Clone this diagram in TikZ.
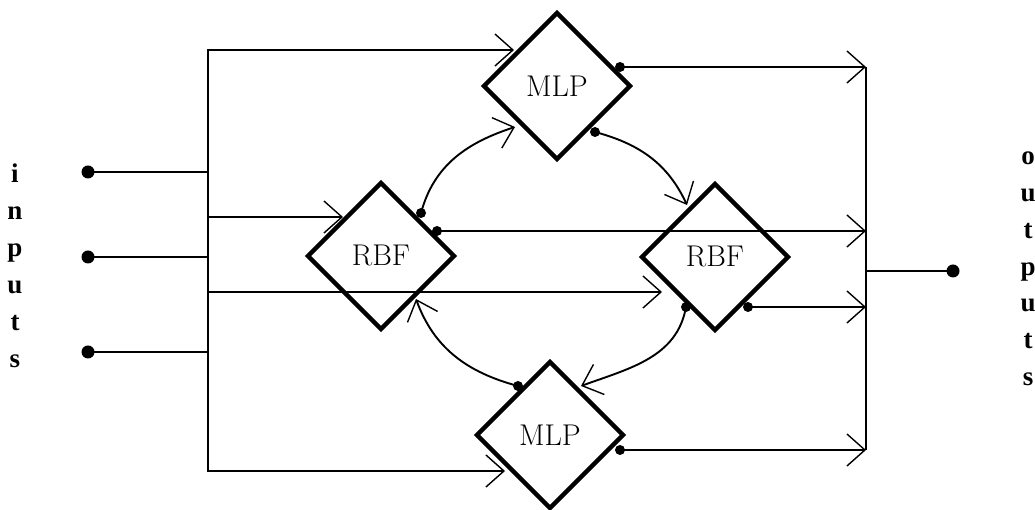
\documentclass[tikz,border=0pt]{standalone}
\usepackage{fontspec}
\newfontfamily\sideserif{Liberation Serif}
\usetikzlibrary{shapes.geometric,arrows.meta,calc}

\begin{document}
\begin{tikzpicture}[x=1pt,y=1pt,
  net/.style={draw, diamond, line width=4.4pt, minimum width=148pt, minimum height=148pt,
              inner sep=0pt, font=\fontsize{30}{32}\selectfont},
  wire/.style={line width=2.8pt},
  barb/.tip={Straight Barb[length=18pt,width=32pt,line width=1.4pt]},
  feed/.style={wire, -barb},
  feedboth/.style={wire, barb-barb, line join=miter},
  link/.style={line width=1.9pt, -barb},
  port/.style={circle, fill, inner sep=0pt, minimum size=13pt},
  tap/.style={circle, fill, inner sep=0pt, minimum size=10pt},
  sideletter/.style={anchor=base, inner sep=0pt,
                     font=\sideserif\bfseries\fontsize{27}{27}\selectfont},
]
\clip (0,0) rectangle (1035,510);

% the four networks
\node[net] (mlpA) at (557,424) {MLP};
\node[net] (rbfA) at (381,254) {RBF};
\node[net] (rbfB) at (715,253) {RBF};
\node[net] (mlpB) at (550,75)  {MLP};

% input terminals and the input bus
\node[port] (x1) at (88,338) {};
\node[port] (x2) at (88,253) {};
\node[port] (x3) at (88,158) {};
\coordinate (busLtop) at (208,460);
\coordinate (busLbot) at (208,39);

\coordinate (f1) at (514,460);
\coordinate (f2) at (343,293);
\coordinate (f3) at (662,218);
\coordinate (f4) at (505,39);

\draw[feedboth] (f1) -- (busLtop) -- (busLbot) -- (f4);
\draw[feed] (f2 -| busLtop) -- (f2);
\draw[feed] (f3 -| busLtop) -- (f3);
\foreach \p in {x1,x2,x3}
  \draw[wire] (\p.center) -- (\p -| busLtop);

% network outputs and the output bus
\coordinate (busRtop) at (866,443);
\coordinate (busRbot) at (866,60);
\node[tap] (o1) at (620,443) {};
\node[tap] (o2) at (437,279) {};
\node[tap] (o3) at (748,203) {};
\node[tap] (o4) at (620,60)  {};
\foreach \p in {o1,o2,o3,o4}
  \draw[feed] (\p.center) -- (\p -| busRtop);
\draw[wire] (busRtop) -- (busRbot);
\node[port] (y) at (953,239) {};
\draw[wire] (busRtop |- y) -- (y.center);

% ring of links between the networks
\node[tap] (d1) at (421,297) {};
\node[tap] (d2) at (595,378) {};
\node[tap] (d3) at (686,203) {};
\node[tap] (d4) at (518,124) {};
\coordinate (a1) at (515,383);
\coordinate (a2) at (687,305);
\coordinate (a3) at (581,124);
\coordinate (a4) at (416,211);
\draw[link] (d1.center) to[out=75,in=198] (a1);
\draw[link] (d2.center) to[out=-15,in=115] (a2);
\draw[link] (d3.center) to[out=-100,in=20] (a3);
\draw[link] (d4.center) to[out=165,in=-70] (a4);

% side captions, one letter per line
\foreach \l [count=\i] in {i,n,p,u,t,s}
  \node[sideletter] (in\i) at (15,{364-37*\i}) {\l};
\foreach \l [count=\i] in {o,u,t,p,u,t,s}
  \node[sideletter] (out\i) at (1028,{381.7-36.7*\i}) {\l};
\end{tikzpicture}
\end{document}
